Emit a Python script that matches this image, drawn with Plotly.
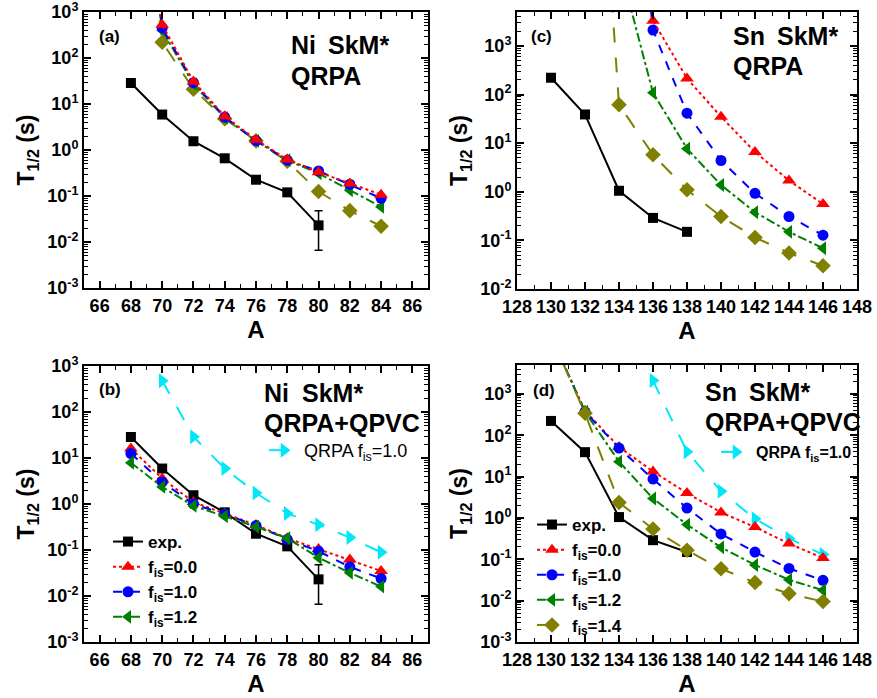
import plotly.graph_objects as go
import numpy as np

# ---------------- data ----------------
# Panel (a): Ni, SkM*, QRPA
ni_exp_A = [68, 70, 72, 74, 76, 78, 80]
ni_exp_T = [28.6, 5.9, 1.55, 0.66, 0.226, 0.12, 0.023]
ni_exp_err_hi = [0, 0, 0, 0, 0, 0, 0.025]
ni_exp_err_lo = [0, 0, 0, 0, 0, 0, 0.0164]

ni_A = [68, 70, 72, 74, 76, 78, 80, 82, 84]
ni_qrpa_f00 = [1e8, 530, 31, 5.4, 1.68, 0.62, 0.33, 0.186, 0.107]
ni_qrpa_f10 = [1e8, 450, 29, 5.2, 1.6, 0.6, 0.35, 0.18, 0.089]
ni_qrpa_f12 = [1e8, 400, 27, 5.0, 1.58, 0.6, 0.31, 0.133, 0.058]
ni_qrpa_f14 = [1e8, 220, 21, 4.8, 1.58, 0.57, 0.125, 0.048, 0.022]

# Panel (b): Ni, SkM*, QRPA+QPVC
ni_qpvc_f00 = [16, 3.6, 1.1, 0.62, 0.35, 0.18, 0.105, 0.062, 0.035]
ni_qpvc_f10 = [12.5, 3.0, 1.0, 0.6, 0.34, 0.17, 0.094, 0.043, 0.024]
ni_qpvc_f12 = [7.9, 2.35, 0.91, 0.54, 0.32, 0.18, 0.068, 0.032, 0.016]
ni_ref_A = [70, 72, 74, 76, 78, 80, 82, 84]
ni_ref_qrpa_f10 = [480, 29, 5.9, 1.74, 0.62, 0.355, 0.186, 0.089]

# Panel (c): Sn, SkM*, QRPA
sn_exp_A = [130, 132, 134, 136, 138]
sn_exp_T = [222, 39, 1.05, 0.29, 0.15]
sn_A3 = [134, 136, 138, 140, 142, 144, 146]
sn_qrpa_f00 = [1e10, 3300, 215, 35, 6.6, 1.7, 0.56]
sn_qrpa_f10 = [1e10, 2130, 41.5, 4.4, 0.93, 0.31, 0.128]
sn_qrpa_f12 = [5e4, 109, 7.7, 1.38, 0.38, 0.15, 0.069]
sn_A4 = [132, 134, 136, 138, 140, 142, 144, 146]
sn_qrpa_f14 = [1e12, 62, 5.8, 1.1, 0.31, 0.115, 0.055, 0.030]

# Panel (d): Sn, SkM*, QRPA+QPVC
sn_A = [130, 132, 134, 136, 138, 140, 142, 144, 146]
sn_qpvc_f00 = [2.5e4, 390, 52, 13.3, 4.0, 1.36, 0.60, 0.24, 0.107]
sn_qpvc_f10 = [2.5e4, 370, 49, 8.7, 1.73, 0.41, 0.15, 0.06, 0.031]
sn_qpvc_f12 = [2.5e4, 370, 23, 2.96, 0.69, 0.195, 0.073, 0.032, 0.0178]
sn_qpvc_f14 = [2.5e4, 340, 2.37, 0.54, 0.166, 0.059, 0.0275, 0.0148, 0.0095]
sn_ref_A = [136, 138, 140, 142, 144, 146]
sn_ref_qrpa_f10 = [2100, 40, 4.4, 0.95, 0.32, 0.13]

ni_xticks = [66, 68, 70, 72, 74, 76, 78, 80, 82, 84, 86]
sn_xticks = [128, 130, 132, 134, 136, 138, 140, 142, 144, 146, 148]

# ---------------- styles ----------------
FONT = "Arial, Liberation Sans, sans-serif"
BLACK, RED, BLUE, GREEN, OLIVE, CYAN = "#000000", "#FF0000", "#0000FF", "#008000", "#808000", "#00E8F8"

styles = {
    "exp": dict(color=BLACK, dash="solid", symbol="square", size=10),
    "f00": dict(color=RED, dash="dot", symbol="triangle-up", size=12),
    "f10": dict(color=BLUE, dash="dash", symbol="circle", size=11),
    "f12": dict(color=GREEN, dash="dashdot", symbol="triangle-left", size=12),
    "f14": dict(color=OLIVE, dash="longdash", symbol="diamond", size=12),
    "ref": dict(color=CYAN, dash="longdash", symbol="triangle-right", size=13),
}

fig = go.Figure()

def add(xax, yax, x, y, key, name=None, legend=None, err=None):
    s = styles[key]
    kw = {}
    if err is not None:
        kw["error_y"] = dict(type="data", symmetric=False, array=err[0], arrayminus=err[1],
                             color=BLACK, thickness=1.5, width=4)
    fig.add_trace(go.Scatter(
        x=x, y=y, xaxis=xax, yaxis=yax, mode="lines+markers",
        line=dict(color=s["color"], dash=s["dash"], width=2),
        marker=dict(symbol=s["symbol"], size=s["size"], color=s["color"]),
        name=name or key, showlegend=legend is not None,
        legend=legend if legend else "legend", **kw))

# (a)
add("x", "y", ni_A, ni_qrpa_f14, "f14")
add("x", "y", ni_A, ni_qrpa_f12, "f12")
add("x", "y", ni_A, ni_qrpa_f10, "f10")
add("x", "y", ni_A, ni_qrpa_f00, "f00")
add("x", "y", ni_exp_A, ni_exp_T, "exp", err=(ni_exp_err_hi, ni_exp_err_lo))
# (b)
add("x2", "y2", ni_ref_A, ni_ref_qrpa_f10, "ref", name="QRPA f<sub>is</sub>=1.0", legend="legend2")
add("x2", "y2", ni_exp_A, ni_exp_T, "exp", name="<b>exp.</b>", legend="legend",
    err=(ni_exp_err_hi, ni_exp_err_lo))
add("x2", "y2", ni_A, ni_qpvc_f00, "f00", name="<b>f<sub>is</sub>=0.0</b>", legend="legend")
add("x2", "y2", ni_A, ni_qpvc_f10, "f10", name="<b>f<sub>is</sub>=1.0</b>", legend="legend")
add("x2", "y2", ni_A, ni_qpvc_f12, "f12", name="<b>f<sub>is</sub>=1.2</b>", legend="legend")
# (c)
add("x3", "y3", sn_A4, sn_qrpa_f14, "f14")
add("x3", "y3", sn_A3, sn_qrpa_f12, "f12")
add("x3", "y3", sn_A3, sn_qrpa_f10, "f10")
add("x3", "y3", sn_A3, sn_qrpa_f00, "f00")
add("x3", "y3", sn_exp_A, sn_exp_T, "exp")
# (d)
add("x4", "y4", sn_ref_A, sn_ref_qrpa_f10, "ref", name="<b>QRPA f<sub>is</sub>=1.0</b>", legend="legend4")
add("x4", "y4", sn_exp_A, sn_exp_T, "exp", name="<b>exp.</b>", legend="legend3")
add("x4", "y4", sn_A, sn_qpvc_f00, "f00", name="<b>f<sub>is</sub>=0.0</b>", legend="legend3")
add("x4", "y4", sn_A, sn_qpvc_f10, "f10", name="<b>f<sub>is</sub>=1.0</b>", legend="legend3")
add("x4", "y4", sn_A, sn_qpvc_f12, "f12", name="<b>f<sub>is</sub>=1.2</b>", legend="legend3")
add("x4", "y4", sn_A, sn_qpvc_f14, "f14", name="<b>f<sub>is</sub>=1.4</b>", legend="legend3")

W, H = 877, 698
def px_x(a, b):
    return [a / W, b / W]
def px_y(top, bot):
    return [1 - bot / H, 1 - top / H]

def xaxis(dom, anchor, rng, ticks):
    return dict(domain=dom, anchor=anchor, range=rng, tickvals=ticks,
                ticktext=[f"<b>{t}</b>" for t in ticks],
                ticks="inside", ticklen=7, tickwidth=1.5, tickcolor="black",
                minor=dict(dtick=1, tick0=0, ticks="inside", ticklen=4, tickcolor="black", tickwidth=1.2),
                showline=True, linewidth=2, linecolor="black", mirror="ticks",
                showgrid=False, zeroline=False,
                tickfont=dict(family=FONT, size=18, color="black"),
                title=dict(text="<b>A</b>", font=dict(family=FONT, size=24, color="black"), standoff=2),
                automargin=False)

def yaxis(dom, anchor, lo, hi, decades):
    minors = [m * 10 ** d for d in range(decades[0] - 1, decades[-1] + 1) for m in range(2, 10)]
    return dict(domain=dom, anchor=anchor, type="log", range=[np.log10(lo), np.log10(hi)],
                tickvals=[10.0 ** d for d in decades],
                ticktext=[f"<b>10<sup>{d}</sup></b>" for d in decades],
                ticks="inside", ticklen=7, tickwidth=1.5, tickcolor="black",
                minor=dict(tickmode="array", tickvals=minors, ticks="inside", ticklen=4,
                           tickcolor="black", tickwidth=1.2),
                showline=True, linewidth=2, linecolor="black", mirror="ticks",
                showgrid=False, zeroline=False, ticklabeloverflow="allow",
                tickfont=dict(family=FONT, size=18, color="black"),
                title=dict(text="<b>T<sub>1/2</sub> (s)</b>", font=dict(family=FONT, size=23, color="black"),
                           standoff=6),
                automargin=False)

fig.update_layout(
    width=W, height=H, margin=dict(l=0, r=0, t=0, b=0),
    paper_bgcolor="white", plot_bgcolor="white",
    font=dict(family=FONT, color="black"),
    hovermode=False,
    xaxis=xaxis(px_x(84, 428), "y", [65, 87], ni_xticks),
    yaxis=yaxis(px_y(12, 288), "x", 1e-3, 1e3, list(range(-3, 4))),
    xaxis2=xaxis(px_x(84, 428), "y2", [65, 87], ni_xticks),
    yaxis2=yaxis(px_y(366, 642), "x2", 1e-3, 1e3, list(range(-3, 4))),
    xaxis3=xaxis(px_x(517, 857), "y3", [128, 148], sn_xticks),
    yaxis3=yaxis(px_y(12, 289), "x3", 1e-2, 5e3, list(range(-2, 4))),
    xaxis4=xaxis(px_x(517, 857), "y4", [128, 148], sn_xticks),
    yaxis4=yaxis(px_y(365, 642), "x4", 1e-3, 5e3, list(range(-3, 4))),
    legend=dict(x=108 / W, y=1 - 524 / H, xanchor="left", yanchor="top", bgcolor="rgba(0,0,0,0)",
                font=dict(family=FONT, size=17, color="black"), tracegroupgap=0),
    legend2=dict(x=264 / W, y=1 - 432 / H, xanchor="left", yanchor="top", bgcolor="rgba(0,0,0,0)",
                 font=dict(family=FONT, size=18, color="black")),
    legend3=dict(x=532 / W, y=1 - 507 / H, xanchor="left", yanchor="top", bgcolor="rgba(0,0,0,0)",
                 font=dict(family=FONT, size=17, color="black"), tracegroupgap=0),
    legend4=dict(x=716 / W, y=1 - 435 / H, xanchor="left", yanchor="top", bgcolor="rgba(0,0,0,0)",
                 font=dict(family=FONT, size=16, color="black")),
    showlegend=True,
)

def note(x, y, text, size):
    fig.add_annotation(x=x / W, y=1 - y / H, xref="paper", yref="paper", text=f"<b>{text}</b>",
                       showarrow=False, xanchor="left", yanchor="middle",
                       font=dict(family=FONT, size=size, color="black"))

note(97, 36, "(a)", 17)
note(289, 45, "Ni", 25)
note(326, 45, "SkM*", 25)
note(289, 76, "QRPA", 25)
note(529, 36, "(c)", 17)
note(731, 36, "Sn", 25)
note(775, 36, "SkM*", 25)
note(731, 66, "QRPA", 25)
note(97, 389, "(b)", 17)
note(262, 393, "Ni", 25)
note(300, 393, "SkM*", 25)
note(262, 423, "QRPA+QPVC", 25)
note(531, 390, "(d)", 17)
note(703, 392, "Sn", 25)
note(747, 392, "SkM*", 25)
note(703, 422, "QRPA+QPVC", 25)

fig.write_html("out.html", post_script="document.body.style.margin='0px';",
               config={"displayModeBar": False})
